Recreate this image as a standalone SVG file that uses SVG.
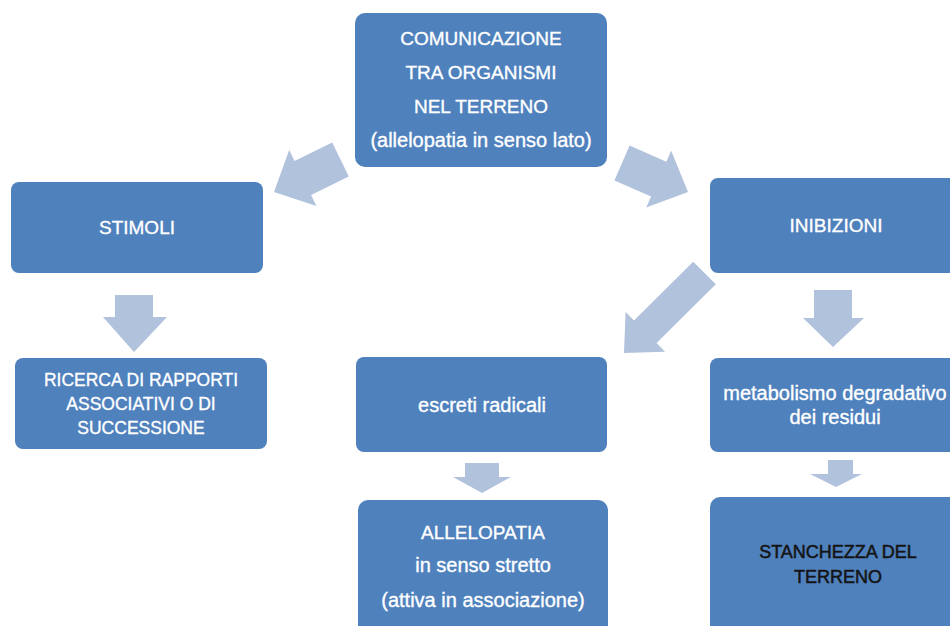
<svg xmlns="http://www.w3.org/2000/svg" width="950" height="626" viewBox="0 0 950 626">
<style>
.box{fill:#4F81BD;}
.arr{fill:#B1C2DD;}
text{font-family:"Liberation Sans",Arial,sans-serif;font-size:19px;fill:#FFFFFF;stroke:#FFFFFF;stroke-width:0.35;text-anchor:middle;dominant-baseline:central;}
.lc{font-size:20px;}
.sm{font-size:17.5px;}
.dark{fill:#141414;stroke:#141414;stroke-width:0.5;font-size:18px;}
</style>
<rect width="950" height="626" fill="#FFFFFF"/>
<g id="connectors">
<polygon class="arr" points="332.2,142.4 294.5,160.9 289.2,150.1 274,192 316.4,205.9 311.1,195.1 348.8,176.6"/>
<polygon class="arr" points="629.6,145.6 666.3,161.7 671.2,150.7 688,192 646.2,207.5 651.1,196.5 614.4,180.4"/>
<polygon class="arr" points="693.2,261.7 634,320.5 625.6,311.9 624,353 665,351.7 656.6,343.1 715.8,284.3"/>
<polygon class="arr" points="115,295 153,295 153,317 167,317 134,352 103,317 115,317"/>
<polygon class="arr" points="814,290 852,290 852,318 864,318 833,347 803,318 814,318"/>
<polygon class="arr" points="465,463 499,463 499,477 511,477 482,493 453,477 465,477"/>
<polygon class="arr" points="828,460 853,460 853,474 862,474 836,487 810,474 828,474"/>
</g>
<g id="node-comunicazione">
<rect class="box" x="355" y="13" width="252" height="154" rx="10"/>
<text x="481" y="38">COMUNICAZIONE</text>
<text x="481" y="72">TRA ORGANISMI</text>
<text x="481" y="106">NEL TERRENO</text>
<text class="lc" x="481" y="140">(allelopatia in senso lato)</text>
</g>
<g id="node-stimoli">
<rect class="box" x="11" y="182" width="252" height="91" rx="8"/>
<text x="137" y="227">STIMOLI</text>
</g>
<g id="node-ricerca">
<rect class="box" x="15" y="358" width="252" height="91" rx="8"/>
<text class="sm" x="141" y="380">RICERCA DI RAPPORTI</text>
<text class="sm" x="141" y="404">ASSOCIATIVI O DI</text>
<text class="sm" x="141" y="428">SUCCESSIONE</text>
</g>
<g id="node-inibizioni">
<rect class="box" x="710" y="178" width="252" height="95" rx="8"/>
<text x="836" y="225">INIBIZIONI</text>
</g>
<g id="node-escreti">
<rect class="box" x="356" y="357" width="251" height="95" rx="8"/>
<text class="lc" x="482" y="405">escreti radicali</text>
</g>
<g id="node-metabolismo">
<rect class="box" x="710" y="358" width="252" height="94" rx="8"/>
<text class="lc" x="835" y="393">metabolismo degradativo</text>
<text class="lc" x="835" y="417">dei residui</text>
</g>
<g id="node-allelopatia">
<rect class="box" x="358" y="500" width="250" height="140" rx="10"/>
<text x="483" y="532">ALLELOPATIA</text>
<text class="lc" x="483" y="565">in senso stretto</text>
<text class="lc" x="483" y="600">(attiva in associazione)</text>
</g>
<g id="node-stanchezza">
<rect class="box" x="710" y="497" width="252" height="143" rx="10"/>
<text class="dark" x="838" y="552">STANCHEZZA DEL</text>
<text class="dark" x="838" y="577">TERRENO</text>
</g>
</svg>
